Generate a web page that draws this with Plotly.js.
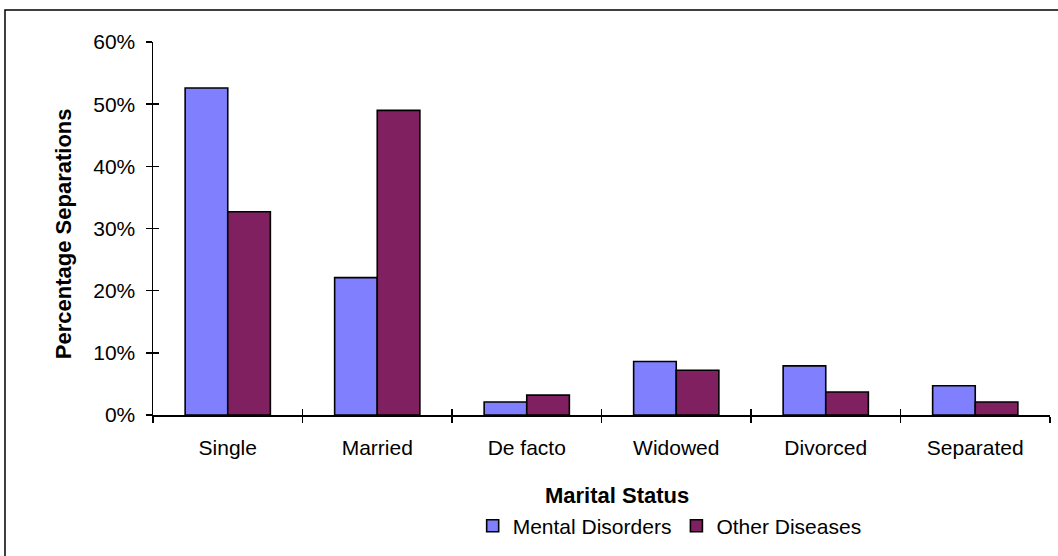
<!DOCTYPE html>
<html>
<head>
<meta charset="utf-8">
<script src="https://cdn.plot.ly/plotly-3.0.1.min.js"></script>
<style>
html,body{margin:0;padding:0;background:#fff;}
#chart{width:1058px;height:556px;}
</style>
</head>
<body>
<div id="chart"></div>
<script>
const categories = ["Single", "Married", "De facto", "Widowed", "Divorced", "Separated"];
const mentalDisorders = [0.526, 0.221, 0.021, 0.086, 0.079, 0.047];
const otherDiseases = [0.327, 0.490, 0.032, 0.072, 0.037, 0.021];
const seriesNames = ["Mental Disorders", "Other Diseases"];
const yTickVals = [0, 0.1, 0.2, 0.3, 0.4, 0.5, 0.6];
const yTickText = ["0%", "10%", "20%", "30%", "40%", "50%", "60%"];

const FONT = "Arial, 'Liberation Sans', sans-serif";

const traces = [
  {
    type: "bar", name: seriesNames[0], x: categories, y: mentalDisorders,
    marker: {color: "#8080FF", line: {color: "#000", width: 1.6}}
  },
  {
    type: "bar", name: seriesNames[1], x: categories, y: otherDiseases,
    marker: {color: "#802060", line: {color: "#000", width: 1.6}}
  },
  {
    // helper trace with no visible points, so the overlay axes (inner half of the cross ticks) are drawn
    type: "scatter", mode: "markers", x: categories, y: categories.map(() => null),
    xaxis: "x2", yaxis: "y2", marker: {opacity: 0},
    showlegend: false, hoverinfo: "skip"
  }
];

const layout = {
  width: 1058, height: 556,
  margin: {l: 153, r: 8, t: 42, b: 141, pad: 0},
  paper_bgcolor: "#fff", plot_bgcolor: "#fff",
  font: {family: FONT, size: 21, color: "#000"},
  barmode: "group",
  bargap: 0.43, bargroupgap: 0,
  showlegend: true,
  legend: {
    orientation: "h", x: 0.576, xanchor: "center", y: -0.298, yanchor: "middle",
    font: {family: FONT, size: 21, color: "#000"},
    itemwidth: 30, tracegroupgap: 0, bgcolor: "rgba(0,0,0,0)"
  },
  xaxis: {
    type: "category",
    categoryarray: categories, categoryorder: "array",
    showline: true, linecolor: "#000", linewidth: 1.5,
    ticks: "outside", ticklen: 6, tickwidth: 1.5, tickcolor: "#000",
    tickson: "boundaries",
    showgrid: false, zeroline: false,
    tickfont: {family: FONT, size: 21, color: "#000"},
    ticklabelstandoff: 13,
    fixedrange: true
  },
  xaxis2: {
    type: "category", overlaying: "x", anchor: "y2",
    categoryarray: categories, categoryorder: "array",
    range: [-0.5, categories.length - 0.5],
    showline: false, ticks: "inside", ticklen: 6, tickwidth: 1.5, tickcolor: "#000",
    tickson: "boundaries", showticklabels: false, showgrid: false, zeroline: false,
    fixedrange: true
  },
  yaxis: {
    range: [0, 0.6],
    tickvals: yTickVals, ticktext: yTickText,
    showline: true, linecolor: "#000", linewidth: 1.5,
    ticks: "outside", ticklen: 6, tickwidth: 1.5, tickcolor: "#000",
    showgrid: false, zeroline: false,
    tickfont: {family: FONT, size: 21, color: "#000"},
    ticklabelstandoff: 6,
    fixedrange: true
  },
  yaxis2: {
    range: [0, 0.6], overlaying: "y", side: "left", anchor: "x2",
    tickvals: yTickVals, showticklabels: false,
    ticks: "inside", ticklen: 6, tickwidth: 1.5, tickcolor: "#000",
    showline: false, showgrid: false, zeroline: false,
    fixedrange: true
  },
  annotations: [
    {
      text: "<b>Percentage Separations</b>", textangle: -90,
      xref: "paper", yref: "paper", x: -0.1003, y: 0.485,
      xanchor: "center", yanchor: "middle", showarrow: false,
      font: {family: FONT, size: 22, color: "#000"}
    },
    {
      text: "<b>Marital Status</b>",
      xref: "paper", yref: "paper", x: 0.517, y: -0.2145,
      xanchor: "center", yanchor: "middle", showarrow: false,
      font: {family: FONT, size: 22, color: "#000"}
    }
  ],
  shapes: [
    {
      type: "rect", xref: "paper", yref: "paper",
      x0: -0.165, x1: 1.2, y0: -0.6, y1: 1.086,
      line: {color: "#000", width: 1.5}, fillcolor: "rgba(0,0,0,0)", layer: "below"
    }
  ]
};

Plotly.newPlot("chart", traces, layout, {displayModeBar: false, staticPlot: true});
</script>
</body>
</html>
